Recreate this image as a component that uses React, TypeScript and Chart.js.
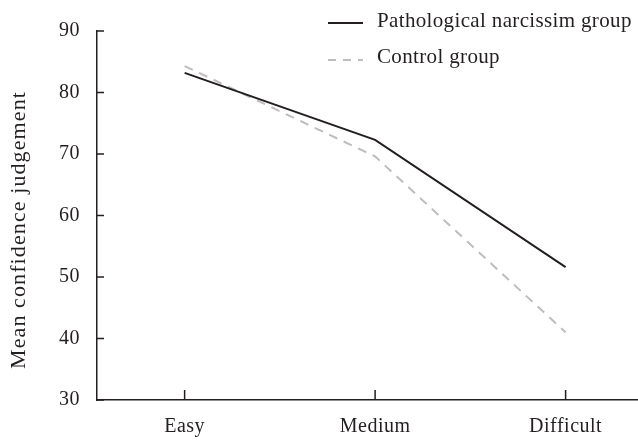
import React, { useEffect, useRef } from "react";
import { Chart, registerables } from "chart.js";

Chart.register(...registerables);

const categories = ["Easy", "Medium", "Difficult"];
const pathological = [83.2, 72.3, 51.6];
const control = [84.3, 69.6, 41.0];
const yTicks = [30, 40, 50, 60, 70, 80, 90];
const seriesNames = ["Pathological narcissim group", "Control group"];
const yTitle = "Mean confidence judgement";

const INK = "#231f20";
const GRAY = "#bdbdbd";
const FONT = "'Liberation Serif', 'Times New Roman', serif";
const TICK_SIZE = 20;
const LEGEND_SIZE = 21;
const TITLE_SIZE = 22;
const DASH = [9, 7];

const letterSpacingPlugin = {
  id: "letterSpacing",
  beforeDraw(chart: any) {
    chart.ctx.letterSpacing = "0.5px";
  },
};

const inwardTicks = {
  id: "inwardTicks",
  afterDraw(chart: any) {
    const { ctx, scales } = chart;
    const x = scales.x;
    const y = scales.y;
    ctx.save();
    ctx.strokeStyle = INK;
    ctx.lineWidth = 1.5;
    ctx.beginPath();
    x.ticks.forEach((t: any) => {
      const px = x.getPixelForValue(t.value);
      ctx.moveTo(px, x.top);
      ctx.lineTo(px, x.top - 10);
    });
    y.ticks.forEach((t: any) => {
      const py = y.getPixelForValue(t.value);
      ctx.moveTo(y.right, py);
      ctx.lineTo(y.right + 7, py);
    });
    ctx.stroke();
    ctx.restore();
  },
};

const yTitlePlugin = {
  id: "yTitlePlugin",
  afterDraw(chart: any) {
    const { ctx } = chart;
    ctx.save();
    ctx.letterSpacing = "1.1px";
    ctx.translate(19, 230);
    ctx.rotate(-Math.PI / 2);
    ctx.font = `${TITLE_SIZE}px ${FONT}`;
    ctx.fillStyle = INK;
    ctx.textAlign = "center";
    ctx.textBaseline = "middle";
    ctx.fillText(yTitle, 0, 0);
    ctx.restore();
  },
};

const customLegend = {
  id: "customLegend",
  afterDraw(chart: any) {
    const { ctx } = chart;
    const x0 = 328;
    const x1 = 363;
    const tx = 377;
    const rows = [
      { y: 23, base: 27, color: INK, dash: [] as number[] },
      { y: 60, base: 63, color: GRAY, dash: [8, 7] },
    ];
    ctx.save();
    rows.forEach((r, i) => {
      ctx.beginPath();
      ctx.setLineDash(r.dash);
      ctx.strokeStyle = r.color;
      ctx.lineWidth = 2;
      ctx.moveTo(x0, r.y);
      ctx.lineTo(x1, r.y);
      ctx.stroke();
      ctx.setLineDash([]);
      ctx.letterSpacing = "0.35px";
      ctx.fillStyle = INK;
      ctx.font = `${LEGEND_SIZE}px ${FONT}`;
      ctx.textBaseline = "alphabetic";
      ctx.textAlign = "left";
      ctx.fillText(seriesNames[i], tx, r.base);
    });
    ctx.restore();
  },
};

export default function App() {
  const ref = useRef<HTMLCanvasElement | null>(null);

  useEffect(() => {
    if (!ref.current) return;
    const chart = new Chart(ref.current, {
      type: "line",
      data: {
        datasets: [
          {
            label: seriesNames[0],
            data: pathological.map((v, i) => ({ x: i, y: v })),
            borderColor: INK,
            borderWidth: 2,
            pointRadius: 0,
            tension: 0,
            fill: false,
          },
          {
            label: seriesNames[1],
            data: control.map((v, i) => ({ x: i, y: v })),
            borderColor: GRAY,
            borderWidth: 2,
            borderDash: DASH,
            pointRadius: 0,
            tension: 0,
            fill: false,
          },
        ],
      },
      options: {
        animation: false,
        responsive: false,
        layout: { padding: { top: 31, left: 0, right: 0, bottom: 0 } },
        plugins: {
          legend: { display: false },
          tooltip: { enabled: false },
        },
        scales: {
          x: {
            type: "linear",
            min: -0.46,
            max: 2.38,
            afterBuildTicks: (s: any) => {
              s.ticks = categories.map((_, i) => ({ value: i }));
            },
            afterFit: (s: any) => {
              s.height = 41;
            },
            grid: { display: true, drawOnChartArea: false, drawTicks: false },
            border: { display: true, color: INK, width: 1.5 },
            ticks: {
              color: INK,
              font: { family: FONT, size: TICK_SIZE },
              padding: 15,
              maxRotation: 0,
              autoSkip: false,
              callback: (v: any) => categories[v as number] ?? "",
            },
          },
          y: {
            type: "linear",
            min: 30,
            max: 90,
            afterBuildTicks: (s: any) => {
              s.ticks = yTicks.map((v) => ({ value: v }));
            },
            afterFit: (s: any) => {
              s.width = 97;
            },
            grid: { display: true, drawOnChartArea: false, drawTicks: false },
            border: { display: true, color: INK, width: 1.5 },
            ticks: {
              color: INK,
              font: { family: FONT, size: TICK_SIZE },
              padding: 17,
            },
            title: { display: false },
          },
        },
      },
      plugins: [letterSpacingPlugin, inwardTicks, yTitlePlugin, customLegend],
    });
    return () => chart.destroy();
  }, []);

  return (
    <div style={{ position: "absolute", left: 0, top: 0, width: 638, height: 441, background: "#fff" }}>
      <canvas ref={ref} width={638} height={441} style={{ width: 638, height: 441, display: "block" }} />
    </div>
  );
}
